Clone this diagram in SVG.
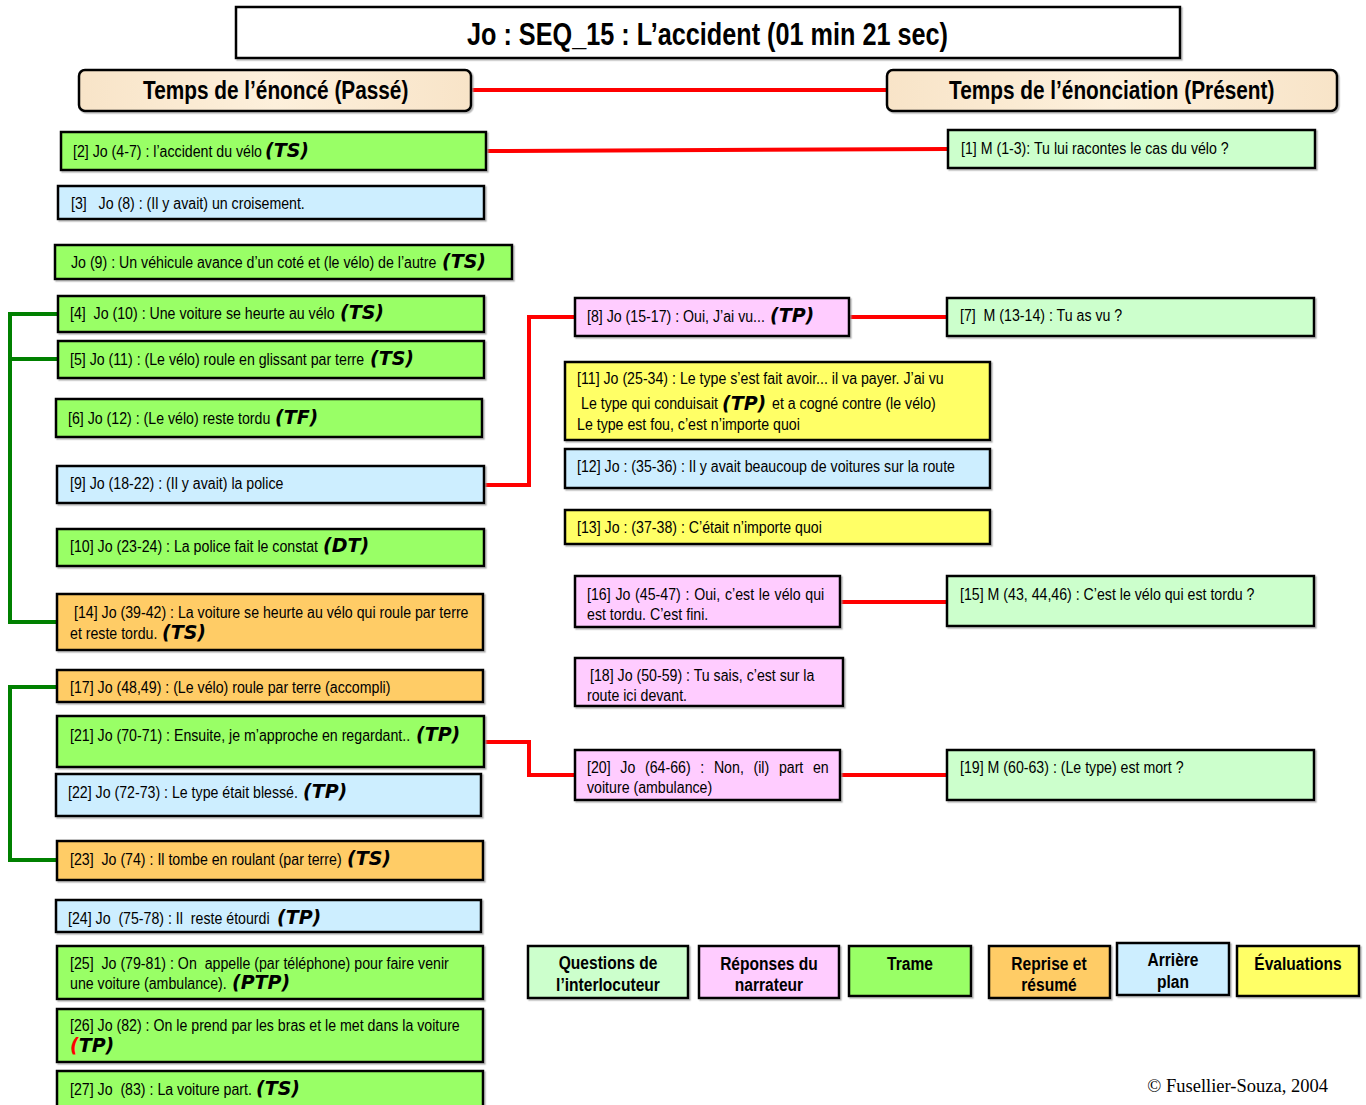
<svg xmlns="http://www.w3.org/2000/svg" width="1366" height="1105" viewBox="0 0 1366 1105">
<defs>
<style>
.b{stroke:#000;stroke-width:2.5;filter:url(#sh)}
.tg{fill:#99ff66}.lg{fill:#ccffcc}.pk{fill:#ffccff}.or{fill:#ffcc66}.bl{fill:#cdeeff}.ye{fill:#ffff66}
.t{font-family:"Liberation Sans",Arial,sans-serif;font-size:17.3px;fill:#000}
.m{font-family:"DejaVu Sans",sans-serif;font-weight:bold;font-style:italic;font-size:19px;fill:#000}
.h{font-family:"Liberation Sans",Arial,sans-serif;font-weight:bold;fill:#000}
.lgd{font-family:"Liberation Sans",Arial,sans-serif;font-weight:bold;font-size:19px;fill:#000;text-anchor:middle}
.red{stroke:#ff0000;stroke-width:4;fill:none}
.grn{stroke:#008000;stroke-width:4;fill:none}
</style>
<filter id="sh" x="-5%" y="-10%" width="110%" height="130%">
<feDropShadow dx="1.5" dy="1.5" stdDeviation="0.6" flood-color="#999" flood-opacity="0.7"/>
</filter>
<linearGradient id="hdr" x1="0" y1="0" x2="1" y2="0">
<stop offset="0" stop-color="#f8e4c8"/><stop offset="0.5" stop-color="#fdf0dc"/><stop offset="1" stop-color="#f8e4c8"/>
</linearGradient>
<clipPath id="c18"><rect x="576" y="659" width="266" height="46"/></clipPath>
</defs>

<g id="connectors">
<line class="red" x1="471" y1="90" x2="887" y2="90" stroke-width="5"/>
<line class="red" x1="486" y1="151" x2="948" y2="149"/>
<polyline class="red" points="484,485 529,485 529,317 575,317"/>
<line class="red" x1="849" y1="317" x2="947" y2="317"/>
<line class="red" x1="840" y1="602" x2="947" y2="602"/>
<polyline class="red" points="484,742 529,742 529,775 575,775"/>
<line class="red" x1="840" y1="775" x2="947" y2="775"/>
<polyline class="grn" points="58,314 10,314 10,622 57,622"/>
<line class="grn" x1="10" y1="359" x2="58" y2="359"/>
<polyline class="grn" points="57,687 10,687 10,860 57,860"/>
</g>

<g id="title">
<rect x="236" y="7" width="944" height="51" fill="#fff" class="b" stroke-width="2"/>
<text class="h" x="467" y="45" font-size="32" textLength="481" lengthAdjust="spacingAndGlyphs">Jo : SEQ_15 : L’accident (01 min 21 sec)</text>
</g>

<g id="hdr-passe">
<rect x="79" y="70" width="392" height="41" rx="6" fill="url(#hdr)" class="b" stroke-width="2"/>
<text class="h" transform="translate(143,99) scale(0.8,1)" font-size="26">Temps de l’énoncé (Passé)</text>
</g>
<g id="hdr-present">
<rect x="887" y="70" width="450" height="41" rx="6" fill="url(#hdr)" class="b" stroke-width="2"/>
<text class="h" transform="translate(949,99) scale(0.8,1)" font-size="26">Temps de l’énonciation (Présent)</text>
</g>

<g id="n2"><rect x="61" y="132" width="425" height="38" class="b tg"/>
<text class="t" transform="translate(73,157) scale(0.82,1)">[2] Jo (4-7) : l’accident du vélo</text>
<text class="m" x="265" y="157">(TS)</text></g>
<g id="n1"><rect x="948" y="130" width="367" height="38" class="b lg"/>
<text class="t" transform="translate(961,154) scale(0.82,1)">[1] M (1-3): Tu lui racontes le cas du vélo ?</text></g>
<g id="n3"><rect x="58" y="186" width="426" height="33" class="b bl"/>
<text class="t" transform="translate(71,209) scale(0.82,1)" xml:space="preserve">[3]   Jo (8) : (Il y avait) un croisement.</text></g>
<g id="n9a"><rect x="55" y="245" width="457" height="34" class="b tg"/>
<text class="t" transform="translate(71,268) scale(0.82,1)">Jo (9) : Un véhicule avance d’un coté et (le vélo) de l’autre</text>
<text class="m" x="442" y="268">(TS)</text></g>
<g id="n4"><rect x="58" y="296" width="426" height="36" class="b tg"/>
<text class="t" transform="translate(70,319) scale(0.82,1)" xml:space="preserve">[4]  Jo (10) : Une voiture se heurte au vélo</text>
<text class="m" x="340" y="319">(TS)</text></g>
<g id="n5"><rect x="58" y="341" width="426" height="37" class="b tg"/>
<text class="t" transform="translate(70,365) scale(0.82,1)">[5] Jo (11) : (Le vélo) roule en glissant par terre</text>
<text class="m" x="370" y="365">(TS)</text></g>
<g id="n6"><rect x="56" y="399" width="426" height="38" class="b tg"/>
<text class="t" transform="translate(68,424) scale(0.82,1)">[6] Jo (12) : (Le vélo) reste tordu</text>
<text class="m" x="275" y="424">(TF)</text></g>
<g id="n9"><rect x="57" y="466" width="427" height="37" class="b bl"/>
<text class="t" transform="translate(70,489) scale(0.82,1)">[9] Jo (18-22) : (Il y avait) la police</text></g>
<g id="n10"><rect x="57" y="529" width="427" height="37" class="b tg"/>
<text class="t" transform="translate(70,552) scale(0.82,1)">[10] Jo (23-24) : La police fait le constat</text>
<text class="m" x="323" y="552">(DT)</text></g>
<g id="n14"><rect x="57" y="594" width="426" height="56" class="b or"/>
<text class="t" transform="translate(74,618) scale(0.82,1)">[14] Jo (39-42) : La voiture se heurte au vélo qui roule par terre</text>
<text class="t" transform="translate(70,639) scale(0.82,1)">et reste tordu.</text>
<text class="m" x="162" y="639">(TS)</text></g>
<g id="n17"><rect x="57" y="670" width="426" height="32" class="b or"/>
<text class="t" transform="translate(70,693) scale(0.82,1)">[17] Jo (48,49) : (Le vélo) roule par terre (accompli)</text></g>
<g id="n21"><rect x="57" y="716" width="427" height="51" class="b tg"/>
<text class="t" transform="translate(70,741) scale(0.82,1)">[21] Jo (70-71) : Ensuite, je m’approche en regardant..</text>
<text class="m" x="416" y="741">(TP)</text></g>
<g id="n22"><rect x="56" y="774" width="425" height="42" class="b bl"/>
<text class="t" transform="translate(68,798) scale(0.82,1)">[22] Jo (72-73) : Le type était blessé.</text>
<text class="m" x="303" y="798">(TP)</text></g>
<g id="n23"><rect x="57" y="841" width="426" height="39" class="b or"/>
<text class="t" transform="translate(70,865) scale(0.82,1)" xml:space="preserve">[23]  Jo (74) : Il tombe en roulant (par terre)</text>
<text class="m" x="347" y="865">(TS)</text></g>
<g id="n24"><rect x="56" y="900" width="425" height="32" class="b bl"/>
<text class="t" transform="translate(68,924) scale(0.82,1)" xml:space="preserve">[24] Jo  (75-78) : Il  reste étourdi</text>
<text class="m" x="277" y="924">(TP)</text></g>
<g id="n25"><rect x="57" y="946" width="426" height="53" class="b tg"/>
<text class="t" transform="translate(70,969) scale(0.82,1)" xml:space="preserve">[25]  Jo (79-81) : On  appelle (par téléphone) pour faire venir</text>
<text class="t" transform="translate(70,989) scale(0.82,1)">une voiture (ambulance).</text>
<text class="m" x="232" y="989">(PTP)</text></g>
<g id="n26"><rect x="57" y="1009" width="426" height="53" class="b tg"/>
<text class="t" transform="translate(70,1031) scale(0.82,1)">[26] Jo (82) : On le prend par les bras et le met dans la voiture</text>
<text class="m" x="70" y="1052"><tspan fill="#ff0000">(</tspan>TP)</text></g>
<g id="n27"><rect x="57" y="1071" width="426" height="40" class="b tg"/>
<text class="t" transform="translate(70,1095) scale(0.82,1)" xml:space="preserve">[27] Jo  (83) : La voiture part.</text>
<text class="m" x="256" y="1095">(TS)</text></g>

<g id="n8"><rect x="575" y="298" width="274" height="38" class="b pk"/>
<text class="t" transform="translate(587,322) scale(0.82,1)">[8] Jo (15-17) : Oui, J’ai vu...</text>
<text class="m" x="770" y="322">(TP)</text></g>
<g id="n7"><rect x="947" y="298" width="367" height="38" class="b lg"/>
<text class="t" transform="translate(960,321) scale(0.82,1)" xml:space="preserve">[7]  M (13-14) : Tu as vu ?</text></g>
<g id="n11"><rect x="565" y="362" width="425" height="78" class="b ye"/>
<text class="t" transform="translate(577,384) scale(0.82,1)">[11] Jo (25-34) : Le type s’est fait avoir... il va payer. J’ai vu</text>
<text class="t" transform="translate(581,409) scale(0.82,1)">Le type qui conduisait</text>
<text class="m" x="722" y="410" font-size="21">(TP)</text>
<text class="t" transform="translate(772,409) scale(0.82,1)">et a cogné contre (le vélo)</text>
<text class="t" transform="translate(577,430) scale(0.82,1)">Le type est fou, c’est n’importe quoi</text></g>
<g id="n12"><rect x="565" y="449" width="425" height="39" class="b bl"/>
<text class="t" transform="translate(577,472) scale(0.82,1)">[12] Jo : (35-36) : Il y avait beaucoup de voitures sur la route</text></g>
<g id="n13"><rect x="565" y="510" width="425" height="34" class="b ye"/>
<text class="t" transform="translate(577,533) scale(0.82,1)">[13] Jo : (37-38) : C’était n’importe quoi</text></g>
<g id="n16"><rect x="575" y="576" width="265" height="51" class="b pk"/>
<text class="t" transform="translate(587,600) scale(0.82,1)" word-spacing="1">[16] Jo (45-47) : Oui, c’est le vélo qui</text>
<text class="t" transform="translate(587,620) scale(0.82,1)">est tordu. C’est fini.</text></g>
<g id="n15"><rect x="947" y="576" width="367" height="50" class="b lg"/>
<text class="t" transform="translate(960,600) scale(0.82,1)">[15] M (43, 44,46) : C’est le vélo qui est tordu ?</text></g>
<g id="n18"><rect x="575" y="658" width="268" height="48" class="b pk"/>
<g clip-path="url(#c18)"><text class="t" transform="translate(590,681) scale(0.82,1)">[18] Jo (50-59) : Tu sais, c’est sur la</text>
<text class="t" transform="translate(587,701) scale(0.82,1)">route ici devant.</text></g></g>
<g id="n20"><rect x="575" y="750" width="265" height="50" class="b pk"/>
<text class="t" transform="translate(587,773) scale(0.82,1)" word-spacing="7">[20] Jo (64-66) : Non, (il) part en</text>
<text class="t" transform="translate(587,793) scale(0.82,1)">voiture (ambulance)</text></g>
<g id="n19"><rect x="947" y="750" width="367" height="50" class="b lg"/>
<text class="t" transform="translate(960,773) scale(0.82,1)">[19] M (60-63) : (Le type) est mort ?</text></g>

<g id="legend">
<g id="lg-q"><rect x="528" y="946" width="160" height="52" class="b lg"/>
<text class="lgd" transform="translate(608,969) scale(0.82,1)">Questions de</text><text class="lgd" transform="translate(608,991) scale(0.82,1)">l’interlocuteur</text></g>
<g id="lg-r"><rect x="699" y="946" width="140" height="52" class="b pk"/>
<text class="lgd" transform="translate(769,970) scale(0.82,1)">Réponses du</text><text class="lgd" transform="translate(769,991) scale(0.82,1)">narrateur</text></g>
<g id="lg-t"><rect x="849" y="946" width="122" height="50" class="b tg"/>
<text class="lgd" transform="translate(910,970) scale(0.82,1)">Trame</text></g>
<g id="lg-rr"><rect x="989" y="946" width="121" height="52" class="b or"/>
<text class="lgd" transform="translate(1049,970) scale(0.82,1)">Reprise et</text><text class="lgd" transform="translate(1049,991) scale(0.82,1)">résumé</text></g>
<g id="lg-a"><rect x="1117" y="943" width="112" height="52" class="b bl"/>
<text class="lgd" transform="translate(1173,966) scale(0.82,1)">Arrière</text><text class="lgd" transform="translate(1173,988) scale(0.82,1)">plan</text></g>
<g id="lg-e"><rect x="1237" y="946" width="122" height="50" class="b ye"/>
<text class="lgd" transform="translate(1298,970) scale(0.82,1)">Évaluations</text></g>
</g>

<text x="1328" y="1092" font-family="'Liberation Serif',serif" font-size="18.5" text-anchor="end">© Fusellier-Souza, 2004</text>
</svg>
